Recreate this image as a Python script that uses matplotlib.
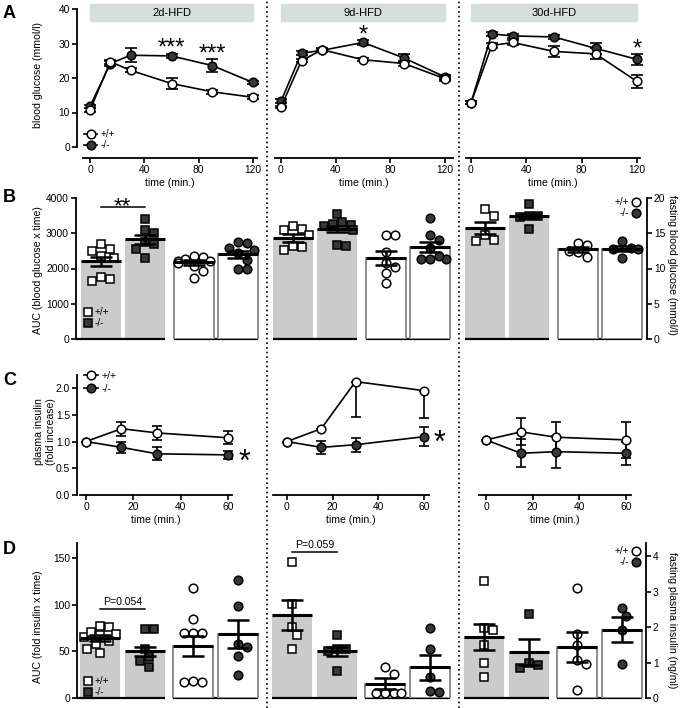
import numpy as np
import matplotlib
matplotlib.use('Agg')
import matplotlib.pyplot as plt
from matplotlib.patches import Rectangle
from matplotlib.lines import Line2D
from matplotlib.transforms import blended_transform_factory

plt.rcParams['font.family'] = ['Liberation Sans', 'DejaVu Sans']
plt.rcParams['font.size'] = 7.4
plt.rcParams['axes.linewidth'] = 1.3
for a in ('xtick', 'ytick'):
    plt.rcParams[a + '.major.width'] = 1.2
    plt.rcParams[a + '.major.size'] = 3.5
    plt.rcParams[a + '.labelsize'] = 7.4
plt.rcParams['xtick.major.pad'] = 1.5
plt.rcParams['ytick.major.pad'] = 1.5

DARK = '#383838'
GRAYBAR = '#cbcbcb'
BOXCOL = '#d4dedc'

# ---------------- data ----------------
diets = ['2d-HFD', '9d-HFD', '30d-HFD']
genotypes = ['+/+', '-/-']

# A: glucose tolerance test (mmol/l)
gtt_time = [0, 15, 30, 60, 90, 120]
gtt_wt = [[10.7, 24.7, 22.2, 18.4, 16.0, 14.4],
          [11.6, 25.0, 28.2, 25.3, 24.2, 19.8],
          [12.8, 29.4, 30.3, 27.7, 27.0, 19.0]]
gtt_wt_sem = [[0.5, 0.6, 0.6, 1.5, 0.6, 0.6],
              [0.4, 0.5, 0.5, 0.5, 0.6, 0.6],
              [0.4, 0.7, 0.6, 1.6, 1.6, 2.0]]
gtt_ko = [[11.8, 24.2, 26.6, 26.4, 23.6, 18.7],
          [13.3, 27.2, 28.0, 30.3, 25.8, 20.3],
          [12.8, 32.8, 32.2, 31.9, 28.6, 25.4]]
gtt_ko_sem = [[0.5, 0.6, 2.0, 0.6, 1.8, 0.5],
              [0.5, 0.6, 0.5, 0.6, 1.2, 0.5],
              [0.4, 0.6, 0.6, 0.7, 1.5, 1.5]]
gtt_stars = [['', '', '', '***', '***', ''],
             ['', '', '', '*', '', ''],
             ['', '', '', '', '', '*']]

# B: glucose AUC and fasting glucose
auc_glc_wt = [[2550, 2700, 2350, 2300, 2500, 1750, 1650, 1700],
              [3200, 3100, 3130, 2950, 2650, 2530, 2600],
              [3700, 3480, 2940, 2790, 2820]]
auc_glc_ko = [[3100, 3400, 3000, 2550, 2300, 2750, 2700],
              [3550, 3270, 3310, 3200, 3220, 2630, 2680, 3100],
              [3830, 3500, 3450, 3480, 3130]]
auc_glc_mean = [[2200, 2830], [2870, 3120], [3150, 3480]]
auc_glc_sem = [[120, 130], [110, 90], [180, 60]]
fast_glc_wt = [[11.8, 11.4, 11.6, 11.1, 11.0, 10.8, 10.3, 9.7, 8.6],
               [14.8, 14.8, 12.4, 10.8, 10.2, 9.3, 7.9],
               [13.6, 13.4, 11.7, 12.3, 12.5]]
fast_glc_ko = [[13.8, 13.6, 12.9, 12.6, 12.2, 11.2, 10.0, 9.9],
               [17.1, 14.1, 14.7, 12.9, 11.4, 11.3, 11.35, 11.8],
               [13.9, 11.5, 12.8, 12.9, 12.8]]
fast_glc_mean = [[10.9, 12.0], [11.5, 13.1], [12.7, 12.8]]
fast_glc_sem = [[0.35, 0.5], [1.0, 0.7], [0.35, 0.35]]
glc_sig = [(0, '**', 3745)]

# C: insulin fold increase
ins_time = [0, 15, 30, 60]
ins_wt = [[1.0, 1.24, 1.16, 1.07], [1.0, 1.24, 2.12, 1.95], [1.03, 1.18, 1.08, 1.03]]
ins_wt_lo = [[0, 0.13, 0.13, 0.12], [0, 0, 0.66, 0.51], [0, 0.25, 0.28, 0.34]]
ins_wt_hi = [[0, 0.13, 0.13, 0.12], [0, 0, 0, 0], [0, 0.25, 0.28, 0.34]]
ins_ko = [[1.0, 0.89, 0.77, 0.75], [1.0, 0.89, 0.94, 1.09], [1.03, 0.78, 0.81, 0.78]]
ins_ko_sem = [[0, 0.1, 0.12, 0.08], [0, 0.12, 0.13, 0.18], [0, 0.26, 0.30, 0.21]]
ins_stars = ['*', '*', '']

# D: insulin AUC and fasting insulin
auc_ins_wt = [[77, 76, 67, 69, 65, 71, 58, 48, 53, 61],
              [146, 101, 76, 67, 52],
              [125, 75, 73, 57, 37, 23]]
auc_ins_ko = [[74, 74, 53, 44, 40, 33],
              [67, 53, 50, 53, 29],
              [90, 38, 32, 35]]
auc_ins_mean = [[63.9, 50.0], [89.0, 50.0], [65.0, 49.0]]
auc_ins_sem = [[3.2, 5.0], [16.0, 5.0], [14.0, 14.0]]
fast_ins_wt = [[3.09, 2.22, 1.82, 1.82, 1.82, 0.48, 0.45, 0.45],
               [0.88, 0.67, 0.15, 0.15, 0.15, 0.15],
               [3.1, 1.8, 1.49, 1.06, 0.95, 0.22]]
fast_ins_ko = [[3.32, 2.6, 1.44, 1.53, 1.18, 0.64],
               [1.96, 1.37, 0.6, 0.17, 0.2],
               [2.55, 2.32, 1.93, 0.95]]
fast_ins_mean = [[1.47, 1.80], [0.40, 0.86], [1.44, 1.93]]
fast_ins_sem = [[0.29, 0.40], [0.15, 0.35], [0.42, 0.35]]
ins_sig = [(0, 'P=0.054', 95.4), (1, 'P=0.059', 156.5)]

# ---------------- layout helpers (pixels) ----------------
W, H = 686, 708
fig = plt.figure(figsize=(W / 100, H / 100), dpi=100)
PT = 72 / 100  # points per pixel


def add_ax(x0, y0, x1, y1):
    return fig.add_axes([x0 / W, 1 - y1 / H, (x1 - x0) / W, (y1 - y0) / H])


def fx(x):
    return x / W


def fy(y):
    return 1 - y / H


def star(ax, x, y, s, fs, **kw):
    # put the glyph centre of the asterisks at (x, y)
    ax.annotate(s, (x, y), xytext=(0, -0.58 * fs), textcoords='offset points',
                ha='center', va='baseline', fontsize=fs, annotation_clip=False, **kw)


def time_axes(ax, first, ylo, yhi, out_px):
    for s in ('top', 'right'):
        ax.spines[s].set_visible(False)
    if first:
        ax.spines['left'].set_position(('outward', out_px * PT))
        ax.spines['left'].set_bounds(ylo, yhi)
    else:
        ax.spines['left'].set_visible(False)
        ax.tick_params(axis='y', left=False, labelleft=False)
    ax.patch.set_visible(False)


def swarm(vals, ppu, d=9.0, step=4.5, lim=16.0):
    vals = np.asarray(vals, float)
    ys = vals * ppu
    offs = np.zeros(len(vals))
    done = []
    cand = [0.0]
    for k in range(1, 6):
        cand += [k * step, -k * step]
    for i in np.argsort(-vals):
        pick = cand[-1]
        for c in cand:
            if all((c - offs[j]) ** 2 + (ys[i] - ys[j]) ** 2 >= d * d for j in done):
                pick = c
                break
        offs[i] = np.clip(pick, -lim, lim)
        done.append(i)
    return offs


# ---------------- panel A ----------------
a_xext = [(83, 257), (275, 453), (466, 640)]
a_t0 = [(90, 253), (281, 445), (471, 637)]
a_top, a_zero, a_bot = 9, 147, 158
a_ppu = (a_zero - a_top) / 40
for g in range(3):
    x0, x1 = a_xext[g]
    z0, z1 = a_t0[g]
    sc = (z1 - z0) / 120
    ax = add_ax(x0, a_top, x1, a_bot)
    ax.set_xlim((x0 - z0) / sc, (x1 - z0) / sc)
    ax.set_ylim(-(a_bot - a_zero) / a_ppu, 40)
    time_axes(ax, g == 0, 0, 40, x0 - 77)
    ax.set_xticks([0, 40, 80, 120])
    ax.set_yticks([0, 10, 20, 30, 40])
    ax.set_xlabel('time (min.)', fontsize=7.6, labelpad=2)
    for m, s, fc in ((gtt_ko[g], gtt_ko_sem[g], DARK), (gtt_wt[g], gtt_wt_sem[g], 'white')):
        ax.errorbar(gtt_time, m, yerr=s, fmt='none', ecolor='k', elinewidth=1.2,
                    capsize=4, capthick=1.2, zorder=2, clip_on=False)
        ax.plot(gtt_time, m, '-o', color='k', lw=1.2, ms=6.2, mfc=fc, mec='k', mew=1.1,
                zorder=3, clip_on=False)
    for i, s in enumerate(gtt_stars[g]):
        if s:
            top = max(gtt_wt[g][i] + gtt_wt_sem[g][i], gtt_ko[g][i] + gtt_ko_sem[g][i])
            star(ax, gtt_time[i], top + 3.7, s, 17)
    tr = blended_transform_factory(ax.transData, fig.transFigure)
    ax.add_patch(Rectangle((0, fy(21)), 120, (21 - 4) / H, transform=tr, color=BOXCOL,
                           clip_on=False, zorder=0))
    ax.text(60, fy(12.5), diets[g], transform=tr, ha='center', va='center', fontsize=8)
    if g == 0:
        h = [Line2D([], [], color='k', lw=1.2, marker='o', ms=6.2, mfc=c, mec='k', mew=1.1)
             for c in ('white', DARK)]
        ax.legend(h, genotypes, loc='upper left', bbox_to_anchor=(fx(84), fy(129)),
                  bbox_transform=fig.transFigure, frameon=False, fontsize=7.2,
                  handlelength=1.3, handletextpad=0.35, labelspacing=0.15,
                  borderpad=0, borderaxespad=0)

fig.text(fx(38), fy(75), 'blood glucose (mmol/l)', rotation=90, ha='center', va='center', fontsize=7.6)

# ---------------- bar panels B and D ----------------
bar_w = 40
bar_off = [0, 44.5, 93, 137.5]


def bar_row(box, ylim_l, ylim_r, yt_l, yt_r, auc_pts, auc_m, auc_s, f_pts, f_m, f_s, sig,
            sig_fs, leg_y, rleg_y):
    x0, y0, x1, y1 = box
    ax = add_ax(x0, y0, x1, y1)
    ax.set_xlim(x0, x1)
    ax.set_ylim(0, ylim_l)
    ax2 = ax.twinx()
    ax2.set_ylim(0, ylim_r)
    for s in ('top', 'right', 'bottom'):
        ax.spines[s].set_visible(False)
    for s in ('top', 'left', 'bottom'):
        ax2.spines[s].set_visible(False)
    ax.set_xticks([])
    ax.set_yticks(yt_l)
    ax2.set_yticks(yt_r)
    ppu_l = (y1 - y0) / ylim_l
    ppu_r = (y1 - y0) / ylim_r
    for g in range(3):
        base = 100.5 + 192 * g
        xs = [base + o for o in bar_off]
        for k in range(4):
            a = ax if k < 2 else ax2
            gi = k % 2
            if k < 2:
                pts, m, s = auc_pts[gi][g], auc_m[g][gi], auc_s[g][gi]
            else:
                pts, m, s = f_pts[gi][g], f_m[g][gi], f_s[g][gi]
            ppu = ppu_l if k < 2 else ppu_r
            if k < 2:
                a.bar(xs[k], m, width=bar_w, color=GRAYBAR, lw=0, zorder=1)
            else:
                a.bar(xs[k], m, width=bar_w, color='white', edgecolor='#8c8c8c', lw=1.4, zorder=1)
            offs = swarm(pts, ppu)
            mk = 's' if k < 2 else 'o'
            fc = 'white' if gi == 0 else DARK
            a.plot(xs[k] + offs, pts, mk, ms=5.8 if k < 2 else 6.2, mfc=fc, mec='k', mew=1.1,
                   ls='none', zorder=3, clip_on=False)
            a.hlines(m, xs[k] - bar_w / 2, xs[k] + bar_w / 2, color='k', lw=2.2, zorder=4)
            a.errorbar(xs[k], m, yerr=s, fmt='none', ecolor='k', elinewidth=1.8,
                       capsize=8, capthick=1.8, zorder=5)
        for p in (0, 2):
            left = x0 if (g == 0 and p == 0) else xs[p] - bar_w / 2
            ax.hlines(0, left, xs[p + 1] + bar_w / 2, color='k', lw=1.6, clip_on=False, zorder=6)
    for g, lab, yv in sig:
        xa = 100.5 + 192 * g
        ax.plot([xa, xa + bar_off[1]], [yv, yv], color='k', lw=1.1, clip_on=False)
        if lab.startswith('*'):
            star(ax, xa + bar_off[1] / 2, yv + ylim_l * 0.055, lab, sig_fs)
        else:
            ax.text(xa + bar_off[1] / 2, yv + ylim_l * 0.01, lab, ha='center', va='bottom',
                    fontsize=7.6)
    h = [Line2D([], [], ls='none', marker='s', ms=5.8, mfc=c, mec='k', mew=1.1)
         for c in ('white', DARK)]
    ax.legend(h, genotypes, loc='upper left', bbox_to_anchor=(fx(84), fy(leg_y)),
              bbox_transform=fig.transFigure, frameon=False, fontsize=7.2,
              handlelength=0.8, handletextpad=0.3, labelspacing=0.1,
              borderpad=0, borderaxespad=0)
    h2 = [Line2D([], [], ls='none', marker='o', ms=6.2, mfc=c, mec='k', mew=1.1)
          for c in ('white', DARK)]
    ax2.legend(h2, genotypes, loc='upper right', bbox_to_anchor=(fx(640), fy(rleg_y)),
               bbox_transform=fig.transFigure, frameon=False, fontsize=7.2,
               handlelength=0.8, handletextpad=0.3, labelspacing=0.1, markerfirst=False,
               borderpad=0, borderaxespad=0)
    return ax, ax2


bar_row((76, 198, 647, 339), 4000, 20, [0, 1000, 2000, 3000, 4000], [0, 5, 10, 15, 20],
        [auc_glc_wt, auc_glc_ko], auc_glc_mean, auc_glc_sem,
        [fast_glc_wt, fast_glc_ko], fast_glc_mean, fast_glc_sem, glc_sig, 16, 307, 197)
fig.text(fx(38), fy(270), 'AUC (blood glucose x time)', rotation=90, ha='center', va='center', fontsize=7.6)
fig.text(fx(672), fy(265), 'fasting blood glucose (mmol/l)', rotation=270, ha='center', va='center', fontsize=7.6)

bar_row((77, 543, 646, 698), 166, 166 / 38, [0, 50, 100, 150], [0, 1, 2, 3, 4],
        [auc_ins_wt, auc_ins_ko], auc_ins_mean, auc_ins_sem,
        [fast_ins_wt, fast_ins_ko], fast_ins_mean, fast_ins_sem, ins_sig, 16, 676, 546)
fig.text(fx(38), fy(627), 'AUC (fold insulin x time)', rotation=90, ha='center', va='center', fontsize=7.6)
fig.text(fx(672), fy(620), 'fasting plasma insulin (ng/ml)', rotation=270, ha='center', va='center', fontsize=7.6)

# ---------------- panel C ----------------
c_xext = [(80, 232), (273, 429), (479, 631)]
c_t0 = [(86, 228), (287, 424), (486, 626)]
c_top, c_zero = 375, 495
c_ppu = 53.5
for g in range(3):
    x0, x1 = c_xext[g]
    z0, z1 = c_t0[g]
    sc = (z1 - z0) / 60
    ax = add_ax(x0, c_top, x1, c_zero)
    ax.set_xlim((x0 - z0) / sc, (x1 - z0) / sc)
    ax.set_ylim(0, (c_zero - c_top) / c_ppu)
    time_axes(ax, g == 0, 0, (c_zero - c_top) / c_ppu, x0 - 77)
    ax.set_xticks([0, 20, 40, 60])
    ax.set_yticks([0.0, 0.5, 1.0, 1.5, 2.0])
    ax.set_yticklabels(['0.0', '0.5', '1.0', '1.5', '2.0'])
    ax.set_xlabel('time (min.)', fontsize=7.6, labelpad=2)
    ax.errorbar(ins_time, ins_ko[g], yerr=ins_ko_sem[g], fmt='none', ecolor='k', elinewidth=1.2,
                capsize=3.5, capthick=1.2, zorder=2, clip_on=False)
    ax.errorbar(ins_time, ins_wt[g], yerr=[ins_wt_lo[g], ins_wt_hi[g]], fmt='none', ecolor='k',
                elinewidth=1.2, capsize=3.5, capthick=1.2, zorder=2, clip_on=False)
    ax.plot(ins_time, ins_ko[g], '-o', color='k', lw=1.2, ms=6.2, mfc=DARK, mec='k', mew=1.1,
            zorder=3, clip_on=False)
    ax.plot(ins_time, ins_wt[g], '-o', color='k', lw=1.2, ms=6.2, mfc='white', mec='k', mew=1.1,
            zorder=4, clip_on=False)
    if ins_stars[g]:
        star(ax, ins_time[-1] + 7, ins_ko[g][-1] + 0.04, ins_stars[g], 22)
    if g == 0:
        h = [Line2D([], [], color='k', lw=1.2, marker='o', ms=6.2, mfc=c, mec='k', mew=1.1)
             for c in ('white', DARK)]
        ax.legend(h, genotypes, loc='upper left', bbox_to_anchor=(fx(84), fy(371)),
                  bbox_transform=fig.transFigure, frameon=False, fontsize=7.6,
                  handlelength=1.3, handletextpad=0.35, labelspacing=0.25,
                  borderpad=0, borderaxespad=0)

fig.text(fx(45), fy(432), 'plasma insulin\n(fold increase)', rotation=90, ha='center', va='center',
         fontsize=7.6, linespacing=1.2)

# ---------------- separators and panel letters ----------------
for xs in (266.5, 458.5):
    fig.add_artist(Line2D([fx(xs), fx(xs)], [0, 1], color='k', lw=1.2, ls=(0, (1, 1.8))))

for lab, yc in (('A', 13), ('B', 197), ('C', 380), ('D', 549)):
    fig.text(fx(3), fy(yc), lab, ha='left', va='center', fontsize=13, fontweight='bold')

fig.savefig('out.png', dpi=100)
